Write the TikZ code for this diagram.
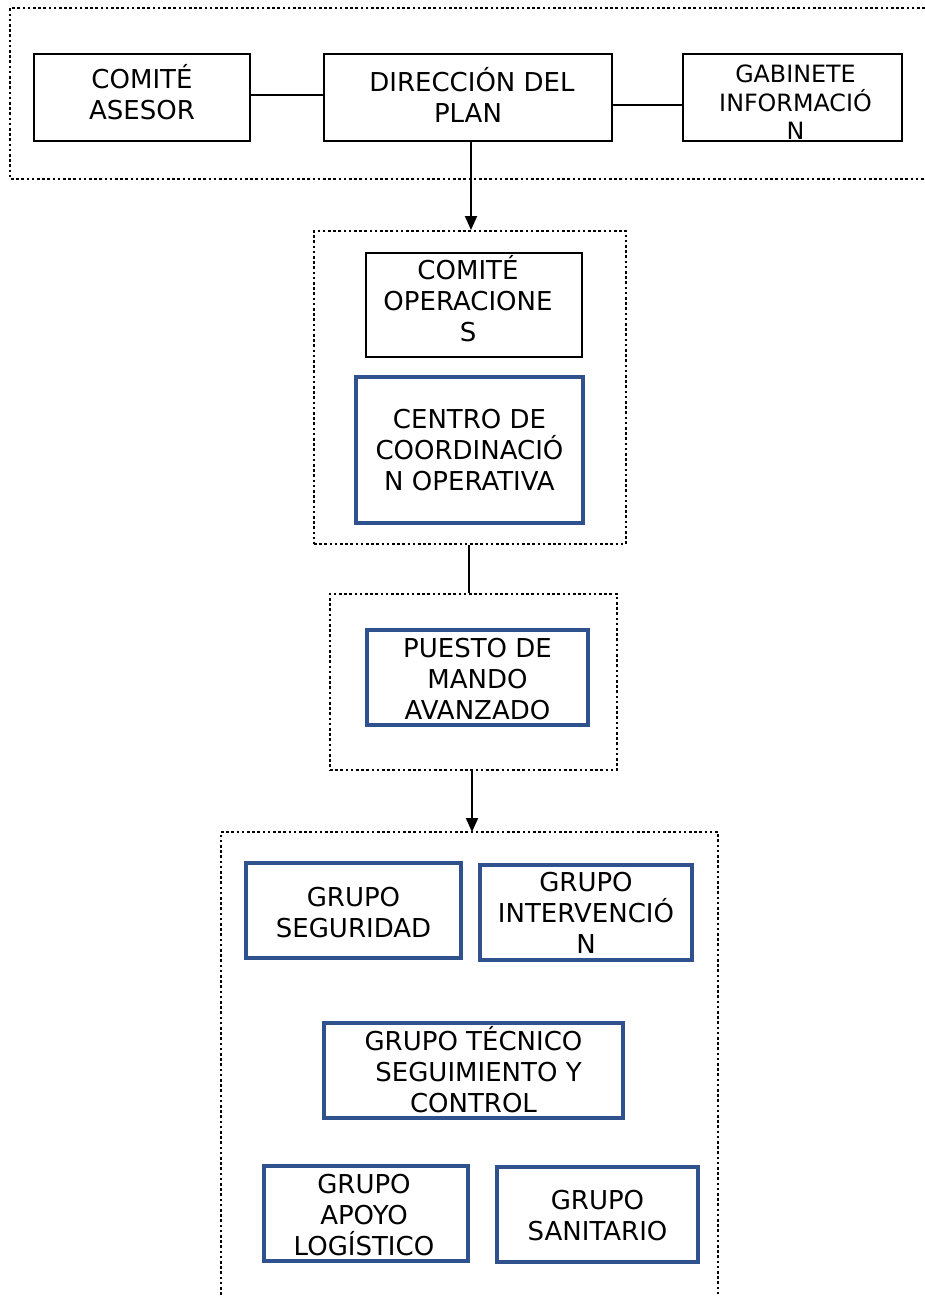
\documentclass[tikz,border=0pt]{standalone}
\usepackage{fontspec}
\setmainfont{DejaVu Sans}
\usetikzlibrary{arrows.meta}
\definecolor{boxblue}{RGB}{47,82,143}
\tikzset{
  blk/.style={draw=black, line width=2pt, fill=white, inner sep=0pt},
  blu/.style={draw=boxblue, line width=3.4pt, fill=white, inner sep=0pt},
  txt/.style={inner sep=0pt, align=center, font=\fontsize{26}{31}\selectfont},
  frame/.style={draw=black, line width=2pt, dash pattern=on 2.6pt off 2.6pt},
  conn/.style={draw=black, line width=2pt},
  arr/.style={draw=black, line width=2pt, -{Triangle[length=14pt,width=12pt]}},
}
\begin{document}
\begin{tikzpicture}[x=1pt,y=-1pt]
\useasboundingbox (0,0) rectangle (925,1296);
% frames
\draw[frame] (930,8) -- (10,8) -- (10,179) -- (930,179);
\node[frame, minimum width=312pt, minimum height=313pt, inner sep=0pt] (f2) at (470,387.5) {};
\node[frame, minimum width=287pt, minimum height=176pt, inner sep=0pt] (f3) at (473.5,682) {};
\draw[frame] (221,1300) -- (221,832) -- (718,832) -- (718,1300);
\coordinate (f4top) at (472,832);
% top row
\node[blk, minimum width=216pt, minimum height=87pt] (ases) at (142,97.5) {};
\node[txt, yshift=5pt] (asesT) at (ases) {COMITÉ\\ASESOR};
\node[blk, minimum width=288pt, minimum height=87pt] (dir) at (468,97.5) {};
\node[txt, yshift=3pt] (dirT) at (dir) {\hspace*{8pt}DIRECCIÓN DEL\\PLAN};
\node[blk, minimum width=219pt, minimum height=87pt] (gab) at (792.5,97.5) {};
\node[txt, font=\fontsize{23.8}{28.5}\selectfont, yshift=-5pt, xshift=3pt] (gabT) at (gab) {GABINETE\\INFORMACIÓ\\N};
% second frame
\node[blk, minimum width=216pt, minimum height=104pt] (cop) at (474,305) {};
\node[txt, yshift=6pt, xshift=-6pt] (copT) at (cop) {COMITÉ\\OPERACIONE\\S};
\node[blu, minimum width=227pt, minimum height=146pt] (cco) at (469.5,450) {};
\node[txt] (ccoT) at (cco) {CENTRO DE\\COORDINACIÓ\\N OPERATIVA};
% third
\node[blu, minimum width=221pt, minimum height=95pt] (pma) at (477.5,677.5) {};
\node[txt, yshift=-2pt] (pmaT) at (pma) {PUESTO DE\\MANDO\\AVANZADO};
% groups
\node[blu, minimum width=215pt, minimum height=95pt] (gseg) at (353.5,910.5) {};
\node[txt, yshift=-2pt] (gsegT) at (gseg) {GRUPO\\SEGURIDAD};
\node[blu, minimum width=212pt, minimum height=95pt] (gint) at (586,912.5) {};
\node[txt] (gintT) at (gint) {GRUPO\\INTERVENCIÓ\\N};
\node[blu, minimum width=299pt, minimum height=95pt] (gtec) at (473.5,1070.5) {};
\node[txt, yshift=1pt] (gtecT) at (gtec) {GRUPO TÉCNICO\\\hspace*{10pt}SEGUIMIENTO Y\\CONTROL};
\node[blu, minimum width=204pt, minimum height=95pt] (gapo) at (366,1213.5) {};
\node[txt, yshift=-2pt, xshift=-2pt] (gapoT) at (gapo) {GRUPO\\APOYO\\LOGÍSTICO};
\node[blu, minimum width=201pt, minimum height=95pt] (gsan) at (597.5,1214.5) {};
\node[txt, yshift=-1pt] (gsanT) at (gsan) {GRUPO\\SANITARIO};
% connectors
\draw[conn] (ases.east |- 0,95) -- (dir.west |- 0,95);
\draw[conn] (dir.east |- 0,105) -- (gab.west |- 0,105);
\draw[arr] (dir.south -| 471,0) -- (f2.north -| 471,0);
\draw[conn] (f2.south -| 469,0) -- (f3.north -| 469,0);
\draw[arr] (f3.south -| 472,0) -- (f4top);
\end{tikzpicture}
\end{document}
